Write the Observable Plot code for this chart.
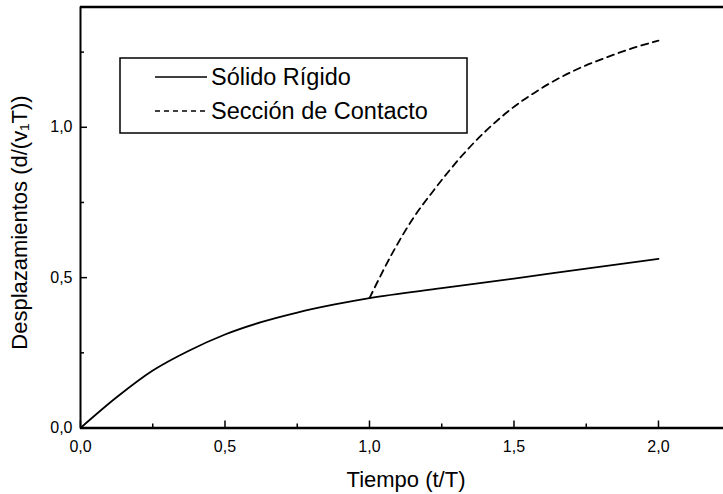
<!DOCTYPE html>
<html>
<head>
<meta charset="utf-8">
<script src="https://cdn.jsdelivr.net/npm/d3@7"></script>
<script src="https://cdn.jsdelivr.net/npm/@observablehq/plot@0.6"></script>
<style>
  html, body { margin: 0; padding: 0; background: #fff; }
  #chart { width: 723px; height: 494px; }
</style>
</head>
<body>
<div id="chart"></div>
<script>
// ---- data ----
const tSolid = [0, 0.125, 0.25, 0.375, 0.5, 0.625, 0.75, 0.875, 1.0, 1.25, 1.5, 1.75, 2.0];
const dSolid = [0, 0.102, 0.191, 0.257, 0.311, 0.352, 0.384, 0.41, 0.432, 0.465, 0.497, 0.53, 0.5625];
const tContact = [1.0, 1.084, 1.153, 1.222, 1.326, 1.476, 1.592, 1.707, 1.822, 1.91, 2.0];
const dContact = [0.432, 0.59, 0.70, 0.79, 0.912, 1.05, 1.128, 1.188, 1.233, 1.263, 1.288];
const seriesNames = ["Sólido Rígido", "Sección de Contacto"];
const xMajor = [0, 0.5, 1.0, 1.5, 2.0];
const xMinor = [0.25, 0.75, 1.25, 1.75];
const yMajor = [0, 0.5, 1.0];
const yMinor = [0.25, 0.75, 1.25];
const xTitle = "Tiempo (t/T)";
const yTitle = "Desplazamientos (d/(v\u2081T))";

const W = 723, H = 494;
const mL = 80, mR = 0, mT = 6.5, mB = 66.5;
const plotH = H - mT - mB, plotW = W - mL - mR;
const FONT = "'Liberation Sans', Arial, Helvetica, sans-serif";
const fmt = d => d.toFixed(1).replace(".", ",");

const solid = tSolid.map((t, i) => ({t, d: dSolid[i]}));
const contact = tContact.map((t, i) => ({t, d: dContact[i]}));

const plot = Plot.plot({
  width: W, height: H,
  marginLeft: mL, marginRight: mR, marginTop: mT, marginBottom: mB,
  style: {fontFamily: FONT, background: "#fff", color: "#000", overflow: "visible"},
  x: {domain: [0, 2.225], axis: null},
  y: {domain: [0, 1.4], axis: null},
  marks: [
    // frame: left, bottom, top
    Plot.ruleX([0], {stroke: "#000", strokeWidth: 2}),
    Plot.ruleY([0], {stroke: "#000", strokeWidth: 2.5}),
    Plot.ruleY([1.4], {stroke: "#000", strokeWidth: 2.5}),
    // inward ticks
    Plot.tickX(xMajor, {x: d => d, insetTop: plotH - 7, stroke: "#000", strokeWidth: 1.5}),
    Plot.tickX(xMinor, {x: d => d, insetTop: plotH - 4, stroke: "#000", strokeWidth: 1.5}),
    Plot.tickY(yMajor, {y: d => d, insetRight: plotW - 7, stroke: "#000", strokeWidth: 1.5}),
    Plot.tickY(yMinor, {y: d => d, insetRight: plotW - 4, stroke: "#000", strokeWidth: 1.5}),
    // tick labels
    Plot.text(xMajor, {x: d => d, frameAnchor: "bottom", text: fmt, dy: 19, fontSize: 16, lineAnchor: "middle", textAnchor: "middle", fill: "#000"}),
    Plot.text(yMajor, {y: d => d, frameAnchor: "left", text: fmt, dx: -8, fontSize: 16, lineAnchor: "middle", textAnchor: "end", fill: "#000"}),
    // axis titles
    Plot.text([xTitle], {frameAnchor: "bottom", dx: 4, dy: 52, fontSize: 22, lineAnchor: "middle", textAnchor: "middle", fill: "#000"}),
    Plot.text([yTitle], {frameAnchor: "left", dx: -61, dy: 5, rotate: -90, fontSize: 22, lineAnchor: "middle", textAnchor: "middle", fill: "#000"}),
    // series
    Plot.line(solid, {x: "t", y: "d", stroke: "#000", strokeWidth: 1.8, curve: "monotone-x"}),
    Plot.line(contact, {x: "t", y: "d", stroke: "#000", strokeWidth: 1.8, strokeDasharray: "7,5", curve: "monotone-x"})
  ]
});

// legend box inside the plot
const svg = d3.select(plot);
const lg = svg.append("g").attr("font-family", FONT).attr("text-anchor", "start");
lg.append("rect").attr("x", 120).attr("y", 58).attr("width", 347).attr("height", 75)
  .attr("fill", "#fff").attr("stroke", "#000").attr("stroke-width", 1.5);
const rows = [{y: 77, dash: null}, {y: 111, dash: "5,4"}];
rows.forEach((r, i) => {
  const ln = lg.append("line").attr("x1", 155).attr("x2", 207).attr("y1", r.y).attr("y2", r.y)
    .attr("stroke", "#000").attr("stroke-width", 1.3);
  if (r.dash) ln.attr("stroke-dasharray", r.dash);
  lg.append("text").attr("x", 211).attr("y", r.y).attr("dy", "0.35em")
    .attr("text-anchor", "start").attr("font-size", 23.5).attr("fill", "#000").text(seriesNames[i]);
});

document.getElementById("chart").appendChild(plot);
</script>
</body>
</html>
